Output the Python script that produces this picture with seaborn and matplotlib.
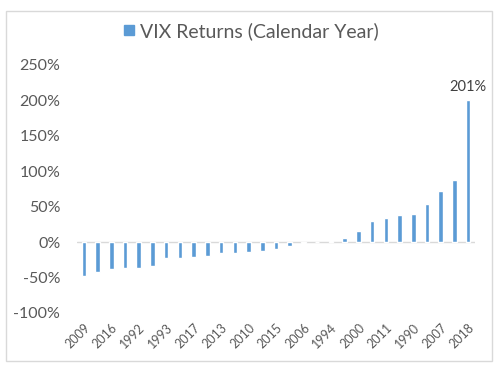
import matplotlib
matplotlib.use('Agg')
import matplotlib.pyplot as plt
import seaborn as sns
import pandas as pd
from matplotlib.patches import Rectangle
from matplotlib.lines import Line2D
from matplotlib.ticker import FuncFormatter

# years sorted by calendar-year return
years = ['2009', '2003', '2016', '2012', '1992', '1991', '1993', '2004', '2017', '2005',
         '2013', '2001', '2010', '1995', '2015', '1999', '2006', '1997', '1994', '1998',
         '2000', '1996', '2011', '2002', '1990', '2014', '2007', '2008', '2018']
returns = [-48, -42, -38, -37, -36, -34, -23, -23, -21, -19,
           -15, -15, -14, -13, -10, -5, -2, 0.3, 1.5, 6,
           16, 30, 34, 38, 40, 54, 72, 88, 201]
y_ticks = [-100, -50, 0, 50, 100, 150, 200, 250]
series_name = 'VIX Returns (Calendar Year)'

blue = '#5B9BD5'
grey_txt = '#595959'

sns.set_style('white')
plt.rcParams['font.family'] = ['Lato', 'DejaVu Sans']

df = pd.DataFrame({'year': years, 'ret': returns})

fig = plt.figure(figsize=(5, 3.76), dpi=100)
ax = fig.add_axes([0.154, 0.1676, 0.796, 0.66])

sns.barplot(data=df, x='year', y='ret', color=blue, saturation=1, width=0.33, ax=ax)

ax.axhline(0, color='#d9d9d9', lw=1, zorder=0)
ax.set_xlim(-0.5, len(years) - 0.5)
ax.set_ylim(-100, 250)
ax.set_yticks(y_ticks)
ax.yaxis.set_major_formatter(FuncFormatter(lambda v, p: f'{v:.0f}%'))
ax.tick_params(axis='y', length=0, labelsize=11.5, labelcolor=grey_txt, pad=12)

ax.set_xticks(range(0, len(years), 2))
ax.set_xticklabels(years[::2], rotation=45, ha='right', rotation_mode='anchor',
                   fontsize=9, color=grey_txt)
ax.tick_params(axis='x', length=0, pad=6)
ax.set_xlabel('')
ax.set_ylabel('')
for s in ax.spines.values():
    s.set_visible(False)

# data label on the largest bar
ax.bar_label(ax.containers[0], labels=[''] * (len(returns) - 1) + [f'{returns[-1]:.0f}%'],
             padding=4, fontsize=10.5, color='#404040')

handle = Line2D([], [], marker='s', linestyle='none', markersize=7.5,
                markerfacecolor=blue, markeredgecolor=blue, label=series_name)
leg = ax.legend(handles=[handle], loc='center', bbox_to_anchor=(0.5, 0.918),
                bbox_transform=fig.transFigure, frameon=False, fontsize=14,
                handlelength=0.8, handletextpad=0.2)
for t in leg.get_texts():
    t.set_color(grey_txt)

fig.patches.append(Rectangle((6 / 500, 1 - 361 / 376), 486 / 500, 350 / 376,
                             transform=fig.transFigure, fill=False,
                             edgecolor='#d9d9d9', lw=1))

fig.savefig('out.png', dpi=100)
